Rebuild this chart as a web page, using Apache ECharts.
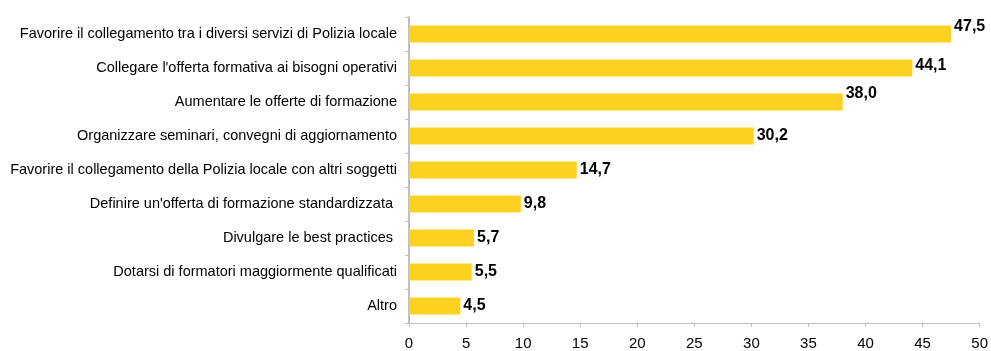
<!DOCTYPE html>
<html>
<head>
<meta charset="utf-8">
<script src="https://cdn.jsdelivr.net/npm/echarts@6/dist/echarts.min.js"></script>
<style>
  html, body { margin: 0; padding: 0; background: #ffffff; }
  #chart { width: 991px; height: 351px; }
</style>
</head>
<body>
<div id="chart"></div>
<script>
// Categories listed top to bottom
const categories = [
  "Favorire il collegamento tra i diversi servizi di Polizia locale",
  "Collegare l'offerta formativa ai bisogni operativi",
  "Aumentare le offerte di formazione",
  "Organizzare seminari, convegni di aggiornamento",
  "Favorire il collegamento della Polizia locale con altri soggetti",
  "Definire un'offerta di formazione standardizzata ",
  "Divulgare le best practices ",
  "Dotarsi di formatori maggiormente qualificati",
  "Altro"
];
const values = [47.5, 44.1, 38.0, 30.2, 14.7, 9.8, 5.7, 5.5, 4.5];
// Vertical nudge for a few value labels (pixels, negative = up)
const labelShift = [-7, -2, -8, 0, 0, 0, 0, 0, 0];

const axisFont = 'Arial, "Liberation Sans", sans-serif';

const chart = echarts.init(document.getElementById('chart'), null, { renderer: 'canvas' });

// Category axis is inverted so the first item sits at the top
const yCats = categories.slice().reverse();
const barData = values.map((v, i) => ({
  value: v,
  label: { offset: [0, labelShift[i]] }
})).reverse();

chart.setOption({
  animation: false,
  backgroundColor: '#ffffff',
  grid: { left: 409, right: 8, top: 17, bottom: 27, containLabel: false },
  xAxis: {
    type: 'value',
    min: 0,
    max: 50,
    interval: 5,
    axisLine: { show: true, lineStyle: { color: '#c0c0c0', width: 1 } },
    axisTick: { show: true, inside: false, length: 4, lineStyle: { color: '#c0c0c0' } },
    splitLine: { show: false },
    axisLabel: { color: '#000000', fontSize: 15, fontFamily: axisFont, margin: 13 }
  },
  yAxis: {
    type: 'category',
    data: yCats,
    axisLine: { show: true, lineStyle: { color: '#c0c0c0', width: 2 } },
    axisTick: { show: true, length: 4, lineStyle: { color: '#c0c0c0' } },
    axisLabel: { color: '#000000', fontSize: 14.5, fontFamily: axisFont, margin: 12 }
  },
  series: [{
    type: 'bar',
    data: barData,
    barWidth: 17,
    itemStyle: { color: '#FDD122' },
    label: {
      show: true,
      position: 'right',
      distance: 3,
      color: '#000000',
      fontSize: 16,
      fontWeight: 'bold',
      fontFamily: axisFont,
      formatter: p => p.value.toFixed(1).replace('.', ',')
    }
  }]
});
</script>
</body>
</html>
